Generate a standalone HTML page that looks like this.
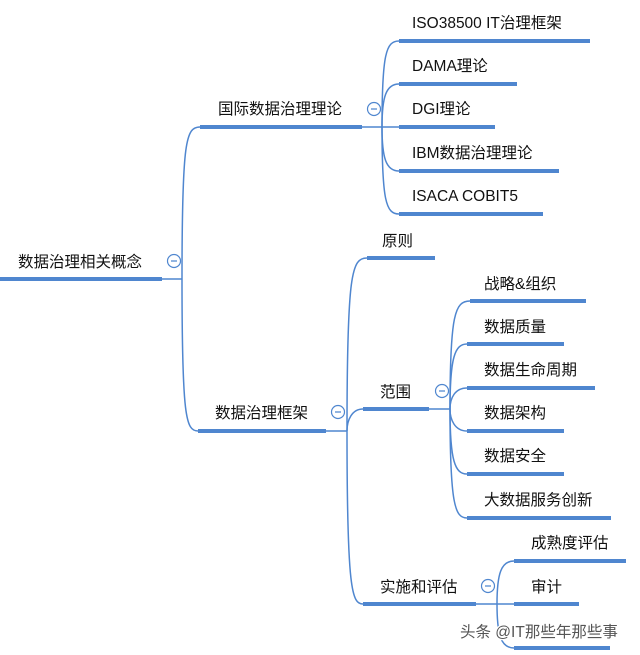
<!DOCTYPE html>
<html><head><meta charset="utf-8"><style>
body{margin:0;background:#fff}
svg{display:block}
text{font-family:"Liberation Sans","Noto Sans CJK SC",sans-serif;font-size:15.5px;fill:#111}
</style></head><body>
<svg width="640" height="655" viewBox="0 0 640 655" xmlns="http://www.w3.org/2000/svg">
<g fill="none" stroke="#4f86cf" stroke-width="1.5">
<path d="M162 279 H182"/>
<path d="M182 279 C182 140 186 127 200 127"/>
<path d="M182 279 C182 418 186 431 198 431"/>
<path d="M362 127 H399"/>
<path d="M382 127 C382 54 386 41 399 41"/>
<path d="M382 127 C382 97 386 84 399 84"/>
<path d="M382 127 C382 158 386 171 399 171"/>
<path d="M382 127 C382 201 386 214 399 214"/>
<path d="M326 431 H347"/>
<path d="M347 431 C347 271 352 258 367 258"/>
<path d="M347 431 C347 420 352 409 363 409"/>
<path d="M347 431 C347 591 352 604 363 604"/>
<path d="M429 409 H450"/>
<path d="M450 409 C450 314 455 301 470 301"/>
<path d="M450 409 C450 357 455 344 467 344"/>
<path d="M450 409 C450 398 455 388 467 388"/>
<path d="M450 409 C450 420 455 431 467 431"/>
<path d="M450 409 C450 461 455 474 467 474"/>
<path d="M450 409 C450 505 455 518 467 518"/>
<path d="M476 604 H514"/>
<path d="M497 604 C497 574 501 561 514 561"/>
<path d="M497 604 C497 635 501 648 514 648"/>
</g>
<g stroke="#4f86cf" stroke-width="4" fill="none">
<path d="M0 279 H162"/>
<path d="M200 127 H362"/>
<path d="M399 41 H590"/><path d="M399 84 H517"/><path d="M399 127 H495"/><path d="M399 171 H559"/><path d="M399 214 H543"/>
<path d="M198 431 H326"/>
<path d="M367 258 H435"/>
<path d="M363 409 H429"/>
<path d="M470 301 H586"/><path d="M467 344 H564"/><path d="M467 388 H595"/><path d="M467 431 H564"/><path d="M467 474 H564"/><path d="M467 518 H611"/>
<path d="M363 604 H476"/>
<path d="M514 561 H626"/><path d="M514 604 H579"/><path d="M514 648 H610"/>
</g>
<g fill="#fff" stroke="#4f86cf" stroke-width="1.2">
<circle cx="174" cy="261" r="6.5"/><circle cx="374" cy="109" r="6.5"/><circle cx="338" cy="412" r="6.5"/><circle cx="442" cy="391" r="6.5"/><circle cx="488" cy="586" r="6.5"/>
</g>
<g stroke="#4f86cf" stroke-width="1.2">
<path d="M171 261h6M371 109h6M335 412h6M439 391h6M485 586h6"/>
</g>
<text x="18" y="267">数据治理相关概念</text>
<text x="218" y="114">国际数据治理理论</text>
<text x="412" y="28">ISO38500 IT治理框架</text>
<text x="412" y="71">DAMA理论</text>
<text x="412" y="114">DGI理论</text>
<text x="412" y="158">IBM数据治理理论</text>
<text x="412" y="201">ISACA COBIT5</text>
<text x="215" y="418">数据治理框架</text>
<text x="382" y="246">原则</text>
<text x="380" y="397">范围</text>
<text x="484" y="289">战略&amp;组织</text>
<text x="484" y="332">数据质量</text>
<text x="484" y="375">数据生命周期</text>
<text x="484" y="418">数据架构</text>
<text x="484" y="461">数据安全</text>
<text x="484" y="505">大数据服务创新</text>
<text x="380" y="592">实施和评估</text>
<text x="531" y="548">成熟度评估</text>
<text x="531" y="592">审计</text>
<text x="460" y="637" style="fill:#555;stroke:#fff;stroke-width:2.5;paint-order:stroke">头条 @IT那些年那些事</text>
</svg>
</body></html>
